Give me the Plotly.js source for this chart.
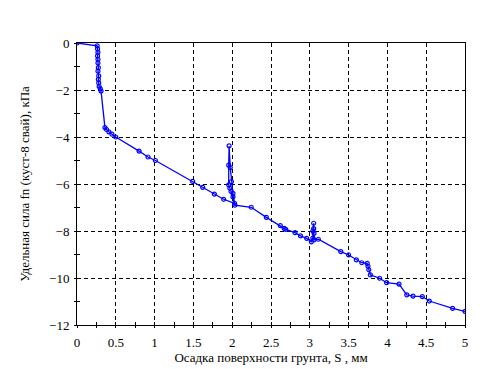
<!DOCTYPE html>
<html>
<head>
<meta charset="utf-8">
<script src="https://cdn.plot.ly/plotly-3.0.1.min.js"></script>
<style>html,body{margin:0;padding:0;background:#fff;}#chart{width:492px;height:369px;}</style>
</head>
<body>
<div id="chart"></div>
<script>
const settlement = [0, 0.26, 0.265, 0.27, 0.265, 0.27, 0.27, 0.275, 0.27, 0.28, 0.275, 0.28, 0.285, 0.30, 0.31,
  0.36, 0.38, 0.41, 0.45, 0.50, 0.80, 0.915, 1.01, 1.49, 1.62, 1.77, 1.89,
  2.03, 2.01, 1.985, 1.97, 1.955, 1.955, 1.96, 1.975, 1.99, 2.01, 2.035,
  2.245, 2.44, 2.62, 2.67, 2.69, 2.81, 2.88, 2.96, 3.02,
  3.04, 3.04, 3.05, 3.05, 3.055, 3.055,
  3.11, 3.40, 3.50, 3.60, 3.67, 3.74, 3.75, 3.76, 3.78, 3.90, 3.99, 4.15,
  4.25, 4.33, 4.45, 4.54, 4.84, 5.0];
const force = [0, -0.12, -0.25, -0.4, -0.55, -0.7, -0.85, -1.05, -1.2, -1.4, -1.55, -1.7, -1.85, -1.95, -2.05,
  -3.6, -3.68, -3.78, -3.88, -4.0, -4.6, -4.85, -5.0, -5.89, -6.14, -6.43, -6.65,
  -6.82, -6.55, -6.32, -6.18, -6.04, -5.2, -4.38, -5.3, -5.9, -6.4, -6.9,
  -6.99, -7.42, -7.77, -7.89, -7.93, -8.07, -8.21, -8.31, -8.46,
  -8.3, -8.0, -7.67, -7.9, -8.1, -8.38,
  -8.35, -8.88, -9.02, -9.23, -9.35, -9.38, -9.5, -9.65, -9.87, -10.01, -10.2, -10.26,
  -10.72, -10.77, -10.79, -10.98, -11.29, -11.42];
const xTitle = 'Осадка поверхности грунта, S , мм';
const yTitle = 'Удельная сила fn (куст-8 свай), кПа';

const font = {family: 'Liberation Serif, Times New Roman, serif', size: 13, color: '#000'};
const data = [
  {x: settlement, y: force, type: 'scatter', mode: 'lines+markers',
   line: {color: '#0000ff', width: 1.3},
   marker: {symbol: 'circle-open', size: 4, color: '#0000ff', line: {width: 1.2}},
   hoverinfo: 'none', showlegend: false},
  {x: [0], y: [0], xaxis: 'x2', yaxis: 'y2', type: 'scatter', mode: 'markers',
   marker: {size: 0.1, opacity: 0}, hoverinfo: 'none', showlegend: false}
];
const layout = {
  width: 492, height: 369,
  margin: {l: 77, r: 27, t: 43, b: 44},
  paper_bgcolor: '#fff', plot_bgcolor: '#fff',
  font: font,
  showlegend: false,
  xaxis: {range: [0, 5], dtick: 0.5, tick0: 0, showline: true, linecolor: '#000', linewidth: 1, mirror: true,
    showgrid: true, gridcolor: '#000', griddash: '4px,3px', gridwidth: 1, zeroline: false,
    ticks: 'inside', ticklen: 3, tickcolor: '#000', ticklabelstandoff: 5,
    minor: {dtick: 0.25, ticks: 'inside', ticklen: 3, tickcolor: '#000', showgrid: false},
    tickfont: font,
    title: {text: xTitle, font: font, standoff: 2}},
  yaxis: {range: [-12, 0], dtick: 2, tick0: 0, showline: true, linecolor: '#000', linewidth: 1, mirror: true,
    showgrid: true, gridcolor: '#000', griddash: '4px,3px', gridwidth: 1, zeroline: false,
    ticks: 'inside', ticklen: 3, tickcolor: '#000', ticklabelstandoff: 4,
    minor: {dtick: 1, ticks: 'inside', ticklen: 3, tickcolor: '#000', showgrid: false},
    tickfont: font,
    title: {text: yTitle, font: font, standoff: 16}},
  xaxis2: {overlaying: 'x', matches: 'x', range: [0, 5], dtick: 0.5, tick0: 0, side: 'bottom', anchor: 'y2',
    showgrid: false, zeroline: false, showline: false, showticklabels: false,
    ticks: 'outside', ticklen: 2, tickcolor: '#000',
    minor: {dtick: 0.25, ticks: 'outside', ticklen: 2, tickcolor: '#000'}},
  yaxis2: {overlaying: 'y', range: [-12, 0], dtick: 2, tick0: 0, side: 'left', anchor: 'x2',
    showgrid: false, zeroline: false, showline: false, showticklabels: false,
    ticks: 'outside', ticklen: 2, tickcolor: '#000',
    minor: {dtick: 1, ticks: 'outside', ticklen: 2, tickcolor: '#000'}}
};
Plotly.newPlot('chart', data, layout, {staticPlot: true, displayModeBar: false});
</script>
</body>
</html>
